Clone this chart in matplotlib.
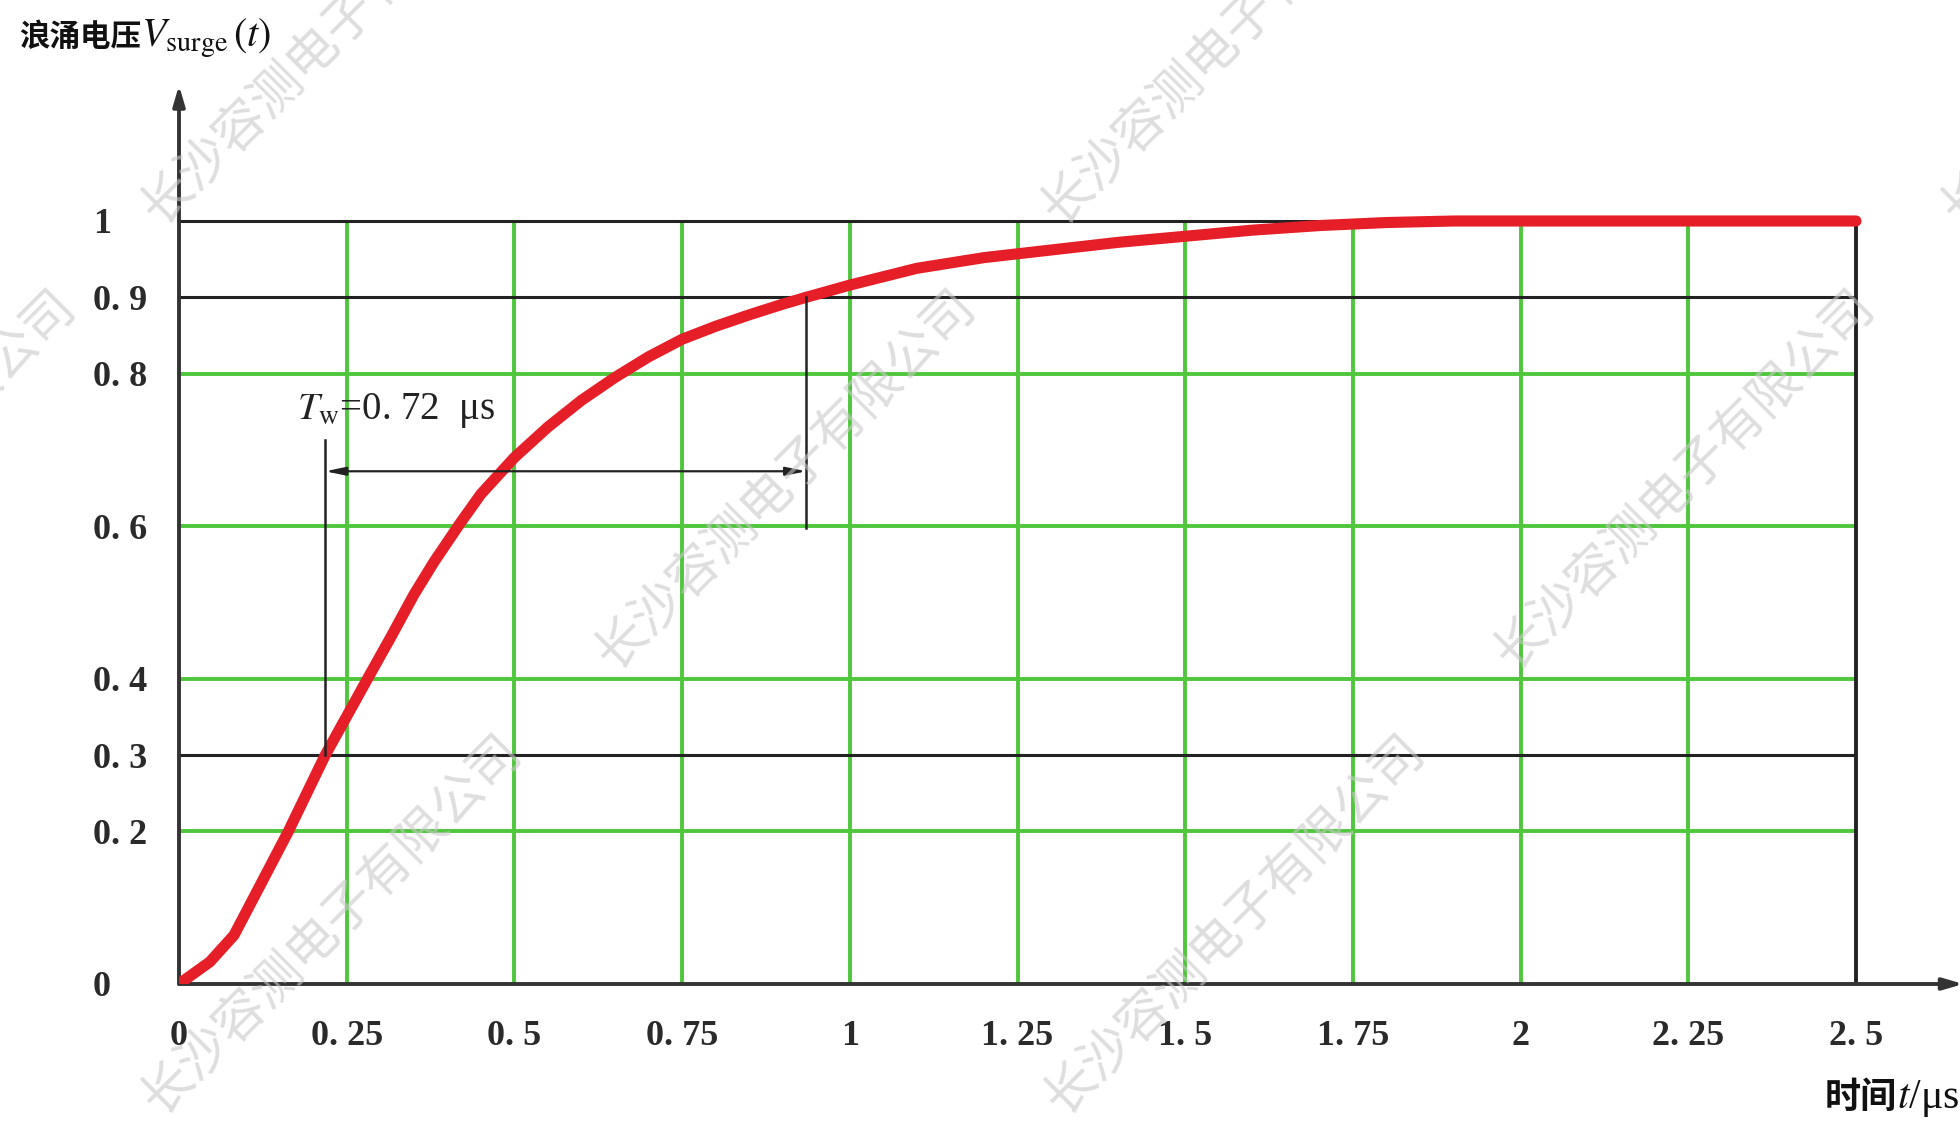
import matplotlib
matplotlib.use("Agg")
import matplotlib.pyplot as plt

# ---- data ----
t_us = [0, 0.046, 0.082, 0.122, 0.163, 0.218, 0.281, 0.316, 0.35, 0.38, 0.42,
        0.45, 0.50, 0.55, 0.60, 0.65, 0.70, 0.75, 0.80, 0.85, 0.90, 0.935, 1.0,
        1.1, 1.2, 1.3, 1.4, 1.5, 1.6, 1.7, 1.8, 1.9, 2.5]
v_surge = [0, 0.029, 0.064, 0.131, 0.20, 0.30, 0.40, 0.455, 0.51, 0.553, 0.605,
           0.642, 0.690, 0.730, 0.765, 0.795, 0.822, 0.845, 0.862, 0.877, 0.891, 0.900, 0.916,
           0.938, 0.952, 0.962, 0.972, 0.980, 0.988, 0.994, 0.998, 1.0, 1.0]
x_ticks = [0, 0.25, 0.5, 0.75, 1, 1.25, 1.5, 1.75, 2, 2.25, 2.5]
x_tick_labels = ["0", "0. 25", "0. 5", "0. 75", "1", "1. 25", "1. 5", "1. 75", "2", "2. 25", "2. 5"]
y_ticks = [0, 0.2, 0.3, 0.4, 0.6, 0.8, 0.9, 1]
y_tick_labels = ["0", "0. 2", "0. 3", "0. 4", "0. 6", "0. 8", "0. 9", "1"]
green_x = [0.25, 0.5, 0.75, 1, 1.25, 1.5, 1.75, 2, 2.25]
green_y = [0.2, 0.4, 0.6, 0.8]
black_y = [0.3, 0.9, 1.0]
t_10 = 0.218   # 30 % crossing
t_90 = 0.935   # 90 % crossing
watermark = "长沙容测电子有限公司"

plt.rcParams['mathtext.fontset'] = 'stix'

W, H = 1960, 1122
fig = plt.figure(figsize=(W / 100, H / 100), dpi=100)
fig.patch.set_facecolor('white')

x0px, y0px = 179, 984
sx, sy = 670.8, 763.0
xmax, ymax = 2.66, 1.178
ax = fig.add_axes([x0px / W, 1 - y0px / H, xmax * sx / W, ymax * sy / H])
ax.set_xlim(0, xmax)
ax.set_ylim(0, ymax)
for s in ax.spines.values():
    s.set_visible(False)
ax.set_facecolor('none')

green = '#4fc63c'
dark = '#222222'

for gx in green_x:
    ax.plot([gx, gx], [0, 1], color=green, lw=2.8, zorder=1, solid_capstyle='butt')
for gy in green_y:
    ax.plot([0, 2.5], [gy, gy], color=green, lw=2.8, zorder=1, solid_capstyle='butt')
for by in black_y:
    ax.plot([0, 2.5], [by, by], color=dark, lw=2.2, zorder=2, solid_capstyle='butt')
ax.plot([2.5, 2.5], [0, 1], color=dark, lw=2.8, zorder=2)

# axes with arrows
ax.annotate('', xy=(0, ymax), xytext=(0, 0),
            arrowprops=dict(arrowstyle='-|>,head_length=1.2,head_width=0.35', color='#333333', lw=2.8,
                            shrinkA=0, shrinkB=0), zorder=3)
ax.annotate('', xy=(xmax, 0), xytext=(0, 0),
            arrowprops=dict(arrowstyle='-|>,head_length=1.2,head_width=0.35', color='#333333', lw=2.8,
                            shrinkA=0, shrinkB=0), zorder=3, annotation_clip=False)

# curve
ax.plot(t_us, v_surge, color='#e61e28', lw=8, zorder=4, solid_capstyle='round', solid_joinstyle='round')

# annotation
ax.plot([t_10, t_10], [0.30, 0.713], color=dark, lw=1.8, zorder=5)
ax.plot([t_90, t_90], [0.597, 0.90], color=dark, lw=1.8, zorder=5)
ax.annotate('', xy=(t_10, 0.672), xytext=(t_90, 0.672),
            arrowprops=dict(arrowstyle='<|-|>,head_length=1.2,head_width=0.25', color=dark, lw=1.6,
                            shrinkA=0, shrinkB=0), zorder=5)
ax.text(0.176, 0.752, r"$T_{\mathrm{w}}$=0. 72  μs", fontsize=28, family=['Liberation Serif', 'DejaVu Serif'],
        ha='left', va='center', color='#222222', zorder=6)

# ticks
ax.set_xticks(x_ticks)
ax.set_xticklabels(x_tick_labels, family='Liberation Serif', fontsize=26, fontweight='bold', color='#2a2a2a')
ax.set_yticks(y_ticks)
ax.set_yticklabels(y_tick_labels, family='Liberation Serif', fontsize=26, fontweight='bold', color='#2a2a2a')
ax.tick_params(axis='x', length=0, pad=26)
ax.tick_params(axis='y', length=0, pad=62)
for lab in ax.get_yticklabels():
    lab.set_ha('left')

# axis titles
t1 = fig.text(19 / W, 1 - 37 / H, "浪涌电压", fontsize=22, fontweight='bold',
              family=['Noto Sans CJK SC', 'DejaVu Sans'], ha='left', va='center', color='#111111')
ax.annotate(r"$V_{\mathrm{surge}}\,(t)$", xy=(1.0, 0.45), xycoords=t1, fontsize=29,
            ha='left', va='center', color='#111111', annotation_clip=False)
t2 = fig.text(1825 / W, 1 - 1097 / H, "时间", fontsize=26, fontweight='bold',
              family=['Noto Sans CJK SC', 'DejaVu Sans'], ha='left', va='center', color='#111111')
ax.annotate(r"$t$/μs", xy=(1.0, 0.45), xycoords=t2, fontsize=30, family=['Liberation Serif'],
            ha='left', va='center', color='#111111', annotation_clip=False)

# watermarks
centers = [(331, 35), (1231, 35), (2131, 35),
           (-115, 480), (785, 480), (1684, 480),
           (331, 925), (1234, 925)]
for cx, cy in centers:
    fig.text(cx / W, 1 - cy / H, watermark, fontsize=37, rotation=45, rotation_mode='anchor',
             family=['Noto Sans CJK SC'], fontweight='light', color='#c8c8c8', alpha=0.6,
             ha='center', va='center', zorder=10)

fig.savefig('out.png', dpi=100, facecolor='white')
